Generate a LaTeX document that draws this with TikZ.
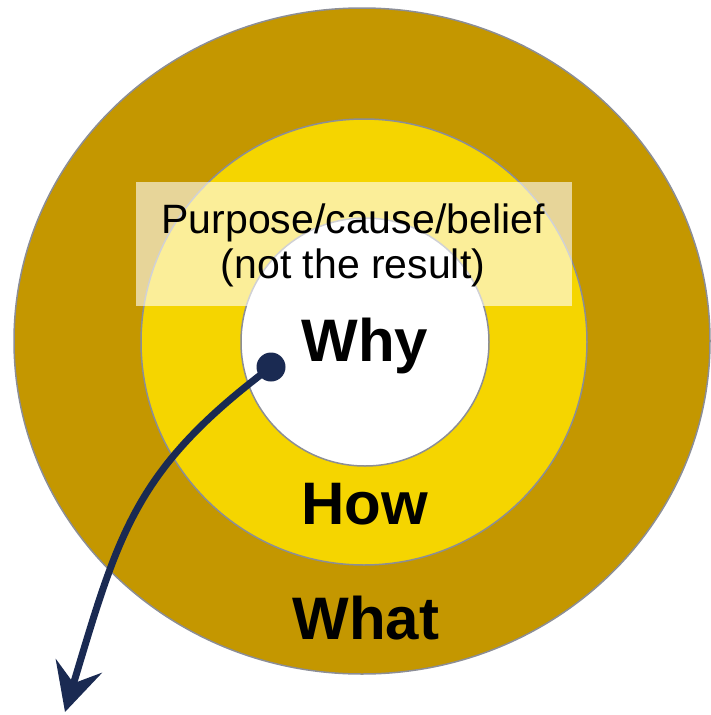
\documentclass[tikz,border=0pt]{standalone}
\usepackage{fontspec}
\setmainfont{Liberation Sans}
\usetikzlibrary{arrows.meta}

\definecolor{whatgold}{RGB}{196,151,0}
\definecolor{howyellow}{RGB}{245,213,0}
\definecolor{ringline}{RGB}{140,142,150}
\definecolor{arrownavy}{RGB}{26,42,82}

\tikzset{
  ring/.style={draw=ringline, line width=1.5pt},
  labelbox/.style={fill=white, fill opacity=0.6, minimum width=436pt, minimum height=124pt, inner sep=0pt},
  caption/.style={anchor=base, inner sep=0pt, font=\fontsize{41}{45}\selectfont},
  word/.style={anchor=base, inner sep=0pt, font=\bfseries\fontsize{60}{66}\selectfont},
  dot/.style={circle, fill=arrownavy, minimum size=29pt, inner sep=0pt},
  pointer/.style={arrownavy, line width=7pt, -{Stealth[length=48pt, width=48pt, inset=18pt]}}
}

\begin{document}
\begin{tikzpicture}[x=1pt, y=-1pt]
  \useasboundingbox (0,0) rectangle (711,715);
  % circles
  \filldraw[ring, fill=whatgold] (362,341) ellipse [x radius=348, y radius=333];
  \filldraw[ring, fill=howyellow] (364,342) circle [radius=223];
  \filldraw[ring, fill=white] (365,342) circle [radius=124];
  % label
  \node[labelbox] (box) at (354,244) {};
  \node[caption] (purpose) at (353,233) {Purpose/cause/belief};
  \node[caption] (result) at (353,278) {(not the result)};
  \node[word] (why) at (365,361) {Why};
  \node[word] (how) at (365,524) {How};
  \node[word] (what) at (366,639) {What};
  % arrow
  \node[dot] (start) at (271,367) {};
  \coordinate (tip) at (65,712);
  \draw[pointer] (start.center) .. controls (135,469) and (119,532) .. (tip);
\end{tikzpicture}
\end{document}
